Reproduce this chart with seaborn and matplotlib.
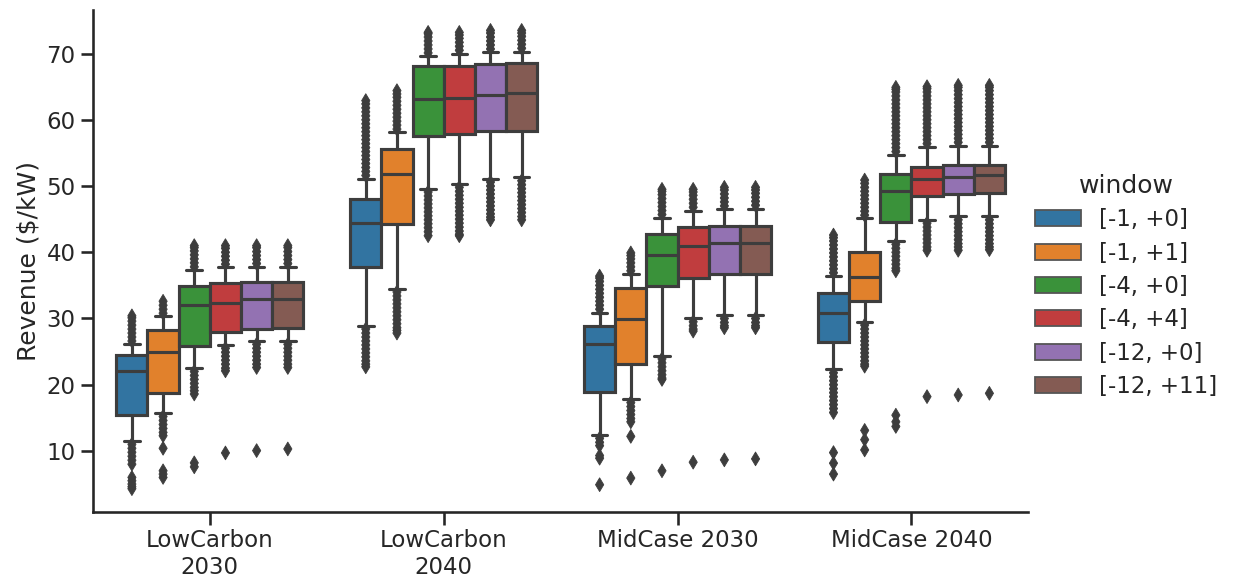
import matplotlib
matplotlib.use("Agg")
import matplotlib.pyplot as plt
import numpy as np
import pandas as pd
import seaborn as sns

# ---------------- data ----------------
scenarios = ["LowCarbon\n2030", "LowCarbon\n2040", "MidCase 2030", "MidCase 2040"]
windows = ["[-1, +0]", "[-1, +1]", "[-4, +0]", "[-4, +4]", "[-12, +0]", "[-12, +11]"]

# box statistics per scenario (rows) and window (columns)
whisker_low = [
    [11.5, 15.7, 22.5, 26.0, 26.6, 26.6],
    [28.9, 34.5, 49.6, 50.3, 51.1, 51.3],
    [12.4, 17.8, 24.4, 30.0, 30.5, 30.5],
    [22.3, 29.5, 41.7, 44.9, 45.4, 45.4],
]
quartile1 = [
    [15.4, 18.8, 25.8, 28.0, 28.4, 28.5],
    [37.8, 44.3, 57.5, 57.8, 58.3, 58.3],
    [18.9, 23.2, 34.9, 36.1, 36.7, 36.7],
    [26.5, 32.6, 44.6, 48.5, 48.8, 48.9],
]
median = [
    [22.1, 25.0, 32.1, 32.4, 32.9, 33.0],
    [44.4, 51.8, 63.1, 63.3, 63.7, 64.0],
    [26.1, 29.9, 39.6, 40.9, 41.4, 41.4],
    [30.9, 36.2, 49.2, 51.0, 51.4, 51.6],
]
quartile3 = [
    [24.5, 28.3, 34.9, 35.4, 35.5, 35.5],
    [48.0, 55.6, 68.1, 68.2, 68.5, 68.6],
    [28.9, 34.6, 42.7, 43.8, 44.0, 44.0],
    [33.9, 40.1, 51.8, 52.8, 53.2, 53.2],
]
whisker_high = [
    [26.1, 30.3, 37.3, 37.7, 37.8, 37.8],
    [51.1, 58.1, 69.6, 70.0, 70.2, 70.3],
    [30.9, 36.7, 45.2, 46.3, 46.5, 46.6],
    [36.4, 45.1, 54.7, 55.9, 56.1, 56.1],
]

# outliers, one list per window
fliers_lowcarbon_2030 = [
    [26.6, 27.2, 27.8, 28.4, 29.0, 29.6, 30.1, 30.4, 11.0, 10.4, 9.8, 9.2, 8.6, 8.0, 6.0, 5.5, 5.0, 4.6, 4.3],
    [30.8, 31.4, 32.0, 32.6, 15.2, 14.6, 14.0, 13.4, 12.8, 12.3, 10.4, 7.0, 6.5, 6.0],
    [37.8, 38.4, 39.0, 39.6, 40.2, 40.7, 41.0, 22.0, 21.4, 20.8, 20.2, 19.6, 19.1, 18.6, 8.2, 7.6],
    [38.2, 38.8, 39.4, 40.0, 40.6, 41.0, 25.5, 24.9, 24.3, 23.7, 23.1, 22.5, 22.1, 9.7],
    [38.3, 38.9, 39.5, 40.1, 40.7, 41.0, 26.1, 25.5, 24.9, 24.3, 23.7, 23.1, 22.6, 10.05],
    [38.3, 38.9, 39.5, 40.1, 40.7, 41.0, 26.1, 25.5, 24.9, 24.3, 23.7, 23.1, 22.6, 10.3],
]
fliers_lowcarbon_2040 = [
    [51.6, 52.2, 52.8, 53.4, 54.0, 54.6, 55.2, 55.8, 56.4, 57.0, 57.6, 58.2, 58.8, 59.4, 60.0,
     60.6, 61.2, 61.8, 62.4, 62.9, 28.4, 27.8, 27.2, 26.6, 26.0, 25.4, 24.8, 24.2, 23.6, 23.1, 22.7],
    [58.6, 59.2, 59.8, 60.4, 61.0, 61.6, 62.2, 62.8, 63.4, 63.9, 64.4,
     34.0, 33.4, 32.8, 32.2, 31.6, 31.0, 30.4, 29.8, 29.2, 28.6, 28.2, 27.8],
    [70.1, 70.7, 71.3, 71.9, 72.5, 73.0, 73.2,
     49.1, 48.5, 47.9, 47.3, 46.7, 46.1, 45.5, 44.9, 44.3, 43.7, 43.1, 42.5],
    [70.5, 71.1, 71.7, 72.3, 72.8, 73.2,
     49.8, 49.2, 48.6, 48.0, 47.4, 46.8, 46.2, 45.6, 45.0, 44.4, 43.8, 43.2, 42.7, 42.5],
    [70.7, 71.3, 71.9, 72.5, 73.1, 73.5,
     50.6, 50.0, 49.4, 48.8, 48.2, 47.6, 47.0, 46.4, 45.8, 45.3, 44.9],
    [70.8, 71.4, 72.0, 72.6, 73.1, 73.5,
     50.8, 50.2, 49.6, 49.0, 48.4, 47.8, 47.2, 46.6, 46.0, 45.4, 44.9],
]
fliers_midcase_2030 = [
    [31.4, 32.0, 32.6, 33.2, 33.8, 34.4, 35.0, 35.6, 36.1, 36.4, 11.9, 11.3, 10.8, 9.3, 8.9, 4.9],
    [37.2, 37.8, 38.4, 39.0, 39.5, 39.9, 17.3, 16.7, 16.1, 15.5, 14.9, 14.4, 12.2, 5.9],
    [45.7, 46.3, 46.9, 47.5, 48.1, 48.7, 49.2, 49.5, 23.9, 23.3, 22.7, 22.1, 21.5, 21.0, 20.8, 7.0],
    [46.8, 47.4, 48.0, 48.6, 49.1, 49.5, 29.5, 28.9, 28.4, 28.1, 8.3],
    [47.0, 47.6, 48.2, 48.8, 49.4, 49.8, 30.0, 29.4, 28.9, 28.6, 8.65],
    [47.1, 47.7, 48.3, 48.9, 49.4, 49.8, 30.0, 29.4, 28.9, 28.6, 8.8],
]
fliers_midcase_2040 = [
    [36.9, 37.5, 38.1, 38.7, 39.3, 39.9, 40.5, 41.1, 41.7, 42.2, 42.6,
     21.8, 21.2, 20.6, 20.0, 19.4, 18.8, 18.2, 17.6, 17.0, 16.4, 15.8, 9.75, 8.15, 6.5],
    [45.6, 46.2, 46.8, 47.4, 48.0, 48.6, 49.2, 49.8, 50.4, 50.9,
     29.0, 28.4, 27.8, 27.2, 26.6, 26.0, 25.4, 24.8, 24.2, 23.6, 23.1, 22.8, 13.1, 11.7, 10.15],
    [55.2, 55.8, 56.4, 57.0, 57.6, 58.2, 58.8, 59.4, 60.0, 60.6, 61.2, 61.8, 62.4, 63.0, 63.6, 64.2, 64.6, 64.9,
     41.2, 40.6, 40.0, 39.4, 38.8, 38.2, 37.6, 37.2, 15.4, 14.4, 13.7],
    [56.4, 57.0, 57.6, 58.2, 58.8, 59.4, 60.0, 60.6, 61.2, 61.8, 62.4, 63.0, 63.6, 64.2, 64.7, 65.0,
     44.4, 43.8, 43.2, 42.6, 42.0, 41.4, 40.8, 40.3, 18.2],
    [56.6, 57.2, 57.8, 58.4, 59.0, 59.6, 60.2, 60.8, 61.4, 62.0, 62.6, 63.2, 63.8, 64.4, 64.9, 65.2,
     44.9, 44.3, 43.7, 43.1, 42.5, 41.9, 41.3, 40.8, 40.3, 18.45],
    [56.6, 57.2, 57.8, 58.4, 59.0, 59.6, 60.2, 60.8, 61.4, 62.0, 62.6, 63.2, 63.8, 64.4, 64.9, 65.2,
     44.9, 44.3, 43.7, 43.1, 42.5, 41.9, 41.3, 40.8, 40.4, 18.7],
]
fliers = [fliers_lowcarbon_2030, fliers_lowcarbon_2040, fliers_midcase_2030, fliers_midcase_2040]

# ---------------- tidy tables ----------------
box_rows = []
for i, sc in enumerate(scenarios):
    for j, w in enumerate(windows):
        for stat in (whisker_low, quartile1, median, quartile3, whisker_high):
            box_rows.append((sc, w, stat[i][j]))
box_df = pd.DataFrame(box_rows, columns=["scenario", "window", "Revenue"])

flier_rows = []
for i, sc in enumerate(scenarios):
    for j, w in enumerate(windows):
        for v in fliers[i][j]:
            flier_rows.append((sc, w, v))
flier_df = pd.DataFrame(flier_rows, columns=["scenario", "window", "Revenue"])

# ---------------- plot ----------------
sns.set_context("talk")
sns.set_style("ticks")
plt.rcParams["font.family"] = ["DejaVu Sans"]

line_gray = "#3d3d3d"
fig = plt.figure(figsize=(12.39, 5.81), dpi=100)
ax = fig.add_axes([0.075, 0.119, 0.755, 0.864])

sns.boxplot(data=box_df, x="scenario", y="Revenue", hue="window",
            order=scenarios, hue_order=windows, whis=(0, 100),
            showfliers=False, saturation=0.75, linecolor=line_gray,
            linewidth=2.25, ax=ax)

sns.stripplot(data=flier_df, x="scenario", y="Revenue", hue="window",
              order=scenarios, hue_order=windows, dodge=True, jitter=False,
              marker="d", size=7, linewidth=0.6, edgecolor=line_gray,
              palette={w: line_gray for w in windows}, legend=False, ax=ax)

ax.set_ylim(0.8, 76.6)
ax.set_xlim(-0.5, 3.5)
ax.set_xlabel("")
ax.set_ylabel("Revenue ($/kW)")
sns.despine(ax=ax)

sns.move_legend(ax, "center left", bbox_to_anchor=(0.985, 0.45),
                frameon=False, title="window", labelspacing=0.45)
for h in ax.get_legend().legend_handles:
    h.set_linewidth(1.3)
    h.set_edgecolor("#555555")

fig.savefig("out.png", dpi=100)
